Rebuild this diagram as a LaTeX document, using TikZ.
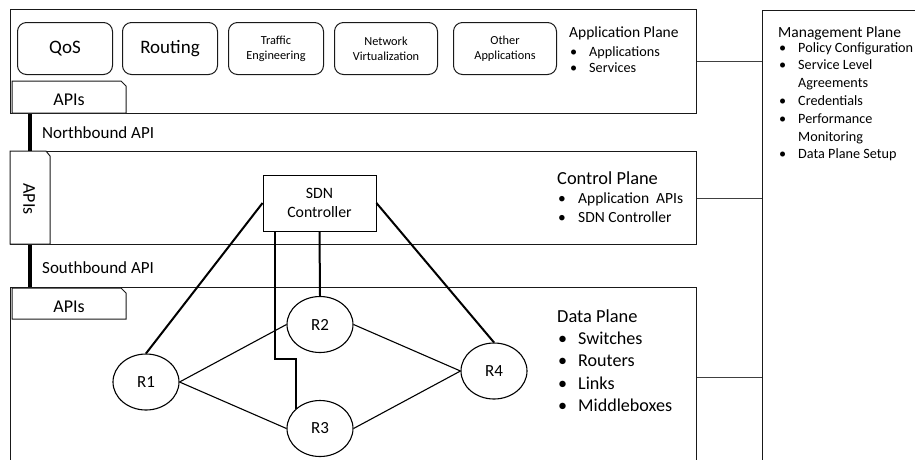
\documentclass[tikz,border=0pt]{standalone}
\usepackage{fontspec}
\setmainfont{Carlito}
\usetikzlibrary{shapes.geometric,calc}
\begin{document}
\begin{tikzpicture}[x=1pt,y=-1pt,
  plane/.style={draw=black!90, line width=1.1pt, inner sep=0pt, anchor=north west},
  appbox/.style={draw=black!90, line width=1pt, rounded corners=9pt, inner sep=0pt, anchor=north west, minimum height=52pt, align=center},
  bigtxt/.style={font=\fontsize{19}{22}\selectfont},
  smalltxt/.style={font=\fontsize{12.3}{15}\selectfont},
  tab/.style={draw=black!90, line width=1pt, fill=white},
  tabtxt/.style={inner sep=0pt, font=\fontsize{18}{21}\selectfont},
  router/.style={draw=black, line width=1.1pt, fill=white, ellipse, minimum width=66pt, minimum height=56pt, inner sep=0pt, font=\fontsize{17}{20}\selectfont},
  ctlline/.style={line width=2pt},
  link/.style={line width=1.1pt},
  apiline/.style={line width=3.5pt},
  mline/.style={line width=0.9pt, draw=black!75},
  lbl/.style={anchor=base west, inner sep=0pt, font=\fontsize{17}{20}\selectfont},
  ttlA/.style={anchor=base west, inner sep=0pt, font=\fontsize{15.5}{18}\selectfont},
  itmA/.style={anchor=base west, inner sep=0pt, font=\fontsize{14.2}{17}\selectfont},
  ttlB/.style={anchor=base west, inner sep=0pt, font=\fontsize{18.4}{22}\selectfont},
  itmC/.style={anchor=base west, inner sep=0pt, font=\fontsize{15.5}{18}\selectfont},
  itmD/.style={anchor=base west, inner sep=0pt, font=\fontsize{18.1}{22}\selectfont}
]
\useasboundingbox (0,0) rectangle (915,459);
\clip (0,0) rectangle (915,459);

% planes
\node[plane, minimum width=686pt, minimum height=104pt] (app) at (10,9) {};
\node[plane, minimum width=686pt, minimum height=93pt] (ctl) at (10,151) {};
\node[plane, minimum width=686pt, minimum height=180pt] (dat) at (10,287) {};
\node[plane, minimum width=300pt, minimum height=500pt] (mgmt) at (762,10) {};

% management links
\draw[mline] (app.east) -- (app.east -| mgmt.west);
\draw[mline] (ctl.east) -- (ctl.east -| mgmt.west);
\draw[mline] (dat.east) -- (dat.east -| mgmt.west);

% application boxes
\node[appbox, minimum width=95pt, bigtxt] (qos) at (17,22) {QoS};
\node[appbox, minimum width=95pt, bigtxt] (rout) at (122,22) {Routing};
\node[appbox, minimum width=95pt, smalltxt] (te) at (228,22) {Traffic\\Engineering};
\node[appbox, minimum width=103pt, smalltxt] (nv) at (334,22) {Network\\Virtualization};
\node[appbox, minimum width=103pt, smalltxt] (oa) at (453,22) {Other\\Applications};

% API tabs
\draw[tab] (12,113) -- (12,81) -- (121,81) -- (126,86) -- (126,113) -- cycle;
\node[tabtxt, anchor=base] (apiA) at (69,105) {APIs};
\draw[tab] (10,244) -- (10,151) -- (46,151) -- (50,156) -- (50,244) -- cycle;
\node[tabtxt, rotate=-90] (apiC) at (29,199) {APIs};
\draw[tab] (12,319) -- (12,288) -- (121,288) -- (126,293) -- (126,319) -- cycle;
\node[tabtxt, anchor=base] (apiD) at (69,312) {APIs};

% northbound / southbound
\draw[apiline] ($(app.south west)+(20,0)$) -- ($(ctl.north west)+(20,0)$);
\draw[apiline] ($(ctl.south west)+(20,0)$) -- ($(dat.north west)+(20,0)$);
\node[lbl] (nb) at (42,138) {Northbound API};
\node[lbl] (sb) at (42,273) {Southbound API};

% controller and routers
\node[draw, line width=0.9pt, fill=white, minimum width=113pt, minimum height=56pt, inner sep=0pt, align=center, font=\fontsize{15.8}{19}\selectfont] (sdn) at (319.5,203) {SDN\\Controller};
\node[router] (R1) at (146,382) {R1};
\node[router] (R2) at (320,324.5) {R2};
\node[router] (R3) at (320,428.5) {R3};
\node[router] (R4) at (494,371) {R4};

\draw[ctlline] (sdn.west) -- (R1.north);
\draw[ctlline] (sdn.south) -- (R2.north);
\draw[ctlline] (sdn.east) -- (R4.north);
\draw[ctlline] ($(sdn.south west)+(12,0)$) |- ($(R3.center)+(-24,-70)$) -- ($(R3.center)+(-24,-19.2)$);

\draw[link] (R1.east) -- (R2.west);
\draw[link] (R1.east) -- (R3.west);
\draw[link] (R2.east) -- (R4.west);
\draw[link] (R3.east) -- (R4.west);

% application plane text
\node[ttlA] (apT) at (569,37.7) {Application Plane};
\node[itmA] (ap1) at (570,56.3) {\makebox[19pt][l]{•}Applications};
\node[itmA] (ap2) at (570,72.5) {\makebox[19pt][l]{•}Services};

% control plane text
\node[ttlB] (cpT) at (557,184) {Control Plane};
\node[itmC] (cp1) at (558,203.3) {\makebox[20pt][l]{•}Application\ \ APIs};
\node[itmC] (cp2) at (558,222.7) {\makebox[20pt][l]{•}SDN Controller};

% data plane text
\node[ttlB] (dpT) at (557,322.3) {Data Plane};
\node[itmD] (dp1) at (558,344.3) {\makebox[20pt][l]{•}Switches};
\node[itmD] (dp2) at (558,366.8) {\makebox[20pt][l]{•}Routers};
\node[itmD] (dp3) at (558,389.3) {\makebox[20pt][l]{•}Links};
\node[itmD] (dp4) at (558,411.7) {\makebox[20pt][l]{•}Middleboxes};

% management plane text
\node[ttlA] (mpT) at (778,37) {Management Plane};
\node[itmA] (mp1) at (779,52) {\makebox[19pt][l]{•}Policy Configuration};
\node[itmA] (mp2) at (779,69.8) {\makebox[19pt][l]{•}Service Level};
\node[itmA] (mp3) at (798,87.6) {Agreements};
\node[itmA] (mp4) at (779,105.4) {\makebox[19pt][l]{•}Credentials};
\node[itmA] (mp5) at (779,123.2) {\makebox[19pt][l]{•}Performance};
\node[itmA] (mp6) at (798,141) {Monitoring};
\node[itmA] (mp7) at (779,158.8) {\makebox[19pt][l]{•}Data Plane Setup};
\end{tikzpicture}
\end{document}
